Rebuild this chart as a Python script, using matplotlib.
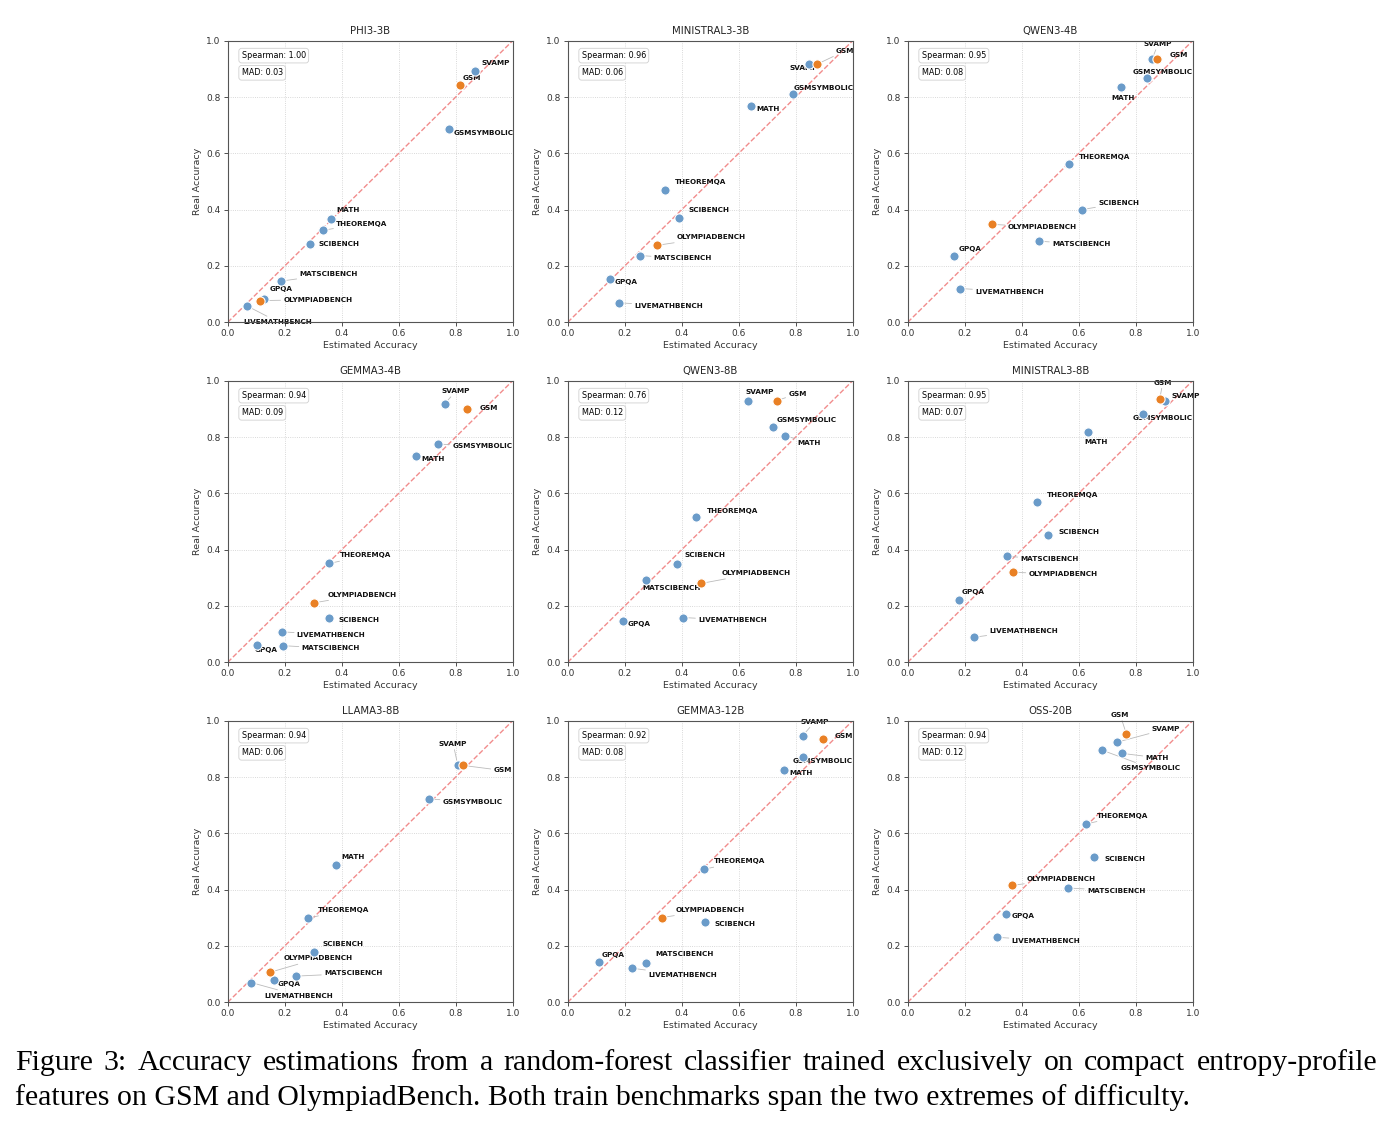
import numpy as np
import matplotlib
matplotlib.use("Agg")
import matplotlib.pyplot as plt

# benchmarks, same order in every panel
benchmarks = ["SVAMP", "GSM", "GSMSYMBOLIC", "MATH", "THEOREMQA", "SCIBENCH",
              "OLYMPIADBENCH", "MATSCIBENCH", "GPQA", "LIVEMATHBENCH"]
train_benchmarks = ["GSM", "OLYMPIADBENCH"]

models = ["PHI3-3B", "MINISTRAL3-3B", "QWEN3-4B",
          "GEMMA3-4B", "QWEN3-8B", "MINISTRAL3-8B",
          "LLAMA3-8B", "GEMMA3-12B", "OSS-20B"]

spearman = ["1.00", "0.96", "0.95", "0.94", "0.76", "0.95", "0.94", "0.92", "0.94"]
mad = ["0.03", "0.06", "0.08", "0.09", "0.12", "0.07", "0.06", "0.08", "0.12"]

# estimated accuracy per model (order of benchmarks)
est_phi3_3b = [0.868, 0.815, 0.778, 0.364, 0.336, 0.288, 0.113, 0.186, 0.129, 0.068]
est_ministral3_3b = [0.847, 0.876, 0.792, 0.643, 0.342, 0.391, 0.312, 0.254, 0.147, 0.181]
est_qwen3_4b = [0.858, 0.876, 0.841, 0.750, 0.567, 0.611, 0.296, 0.460, 0.164, 0.184]
est_gemma3_4b = [0.761, 0.841, 0.739, 0.660, 0.357, 0.354, 0.302, 0.195, 0.104, 0.191]
est_qwen3_8b = [0.634, 0.733, 0.722, 0.761, 0.449, 0.385, 0.468, 0.276, 0.193, 0.406]
est_ministral3_8b = [0.903, 0.884, 0.827, 0.634, 0.455, 0.494, 0.370, 0.350, 0.179, 0.233]
est_llama3_8b = [0.807, 0.827, 0.706, 0.381, 0.280, 0.302, 0.150, 0.241, 0.164, 0.083]
est_gemma3_12b = [0.825, 0.897, 0.825, 0.759, 0.477, 0.483, 0.332, 0.276, 0.109, 0.226]
est_oss_20b = [0.736, 0.767, 0.683, 0.751, 0.625, 0.655, 0.366, 0.561, 0.345, 0.312]

# real accuracy per model
real_phi3_3b = [0.892, 0.841, 0.688, 0.368, 0.327, 0.279, 0.077, 0.146, 0.084, 0.058]
real_ministral3_3b = [0.917, 0.917, 0.809, 0.768, 0.471, 0.370, 0.273, 0.237, 0.154, 0.069]
real_qwen3_4b = [0.936, 0.936, 0.867, 0.836, 0.561, 0.400, 0.348, 0.288, 0.234, 0.120]
real_gemma3_4b = [0.917, 0.901, 0.775, 0.733, 0.351, 0.159, 0.211, 0.059, 0.062, 0.108]
real_qwen3_8b = [0.929, 0.929, 0.836, 0.805, 0.517, 0.350, 0.280, 0.291, 0.148, 0.159]
real_ministral3_8b = [0.927, 0.934, 0.883, 0.817, 0.569, 0.451, 0.320, 0.376, 0.222, 0.089]
real_llama3_8b = [0.844, 0.841, 0.722, 0.486, 0.298, 0.179, 0.107, 0.093, 0.078, 0.070]
real_gemma3_12b = [0.947, 0.935, 0.871, 0.825, 0.472, 0.284, 0.301, 0.141, 0.143, 0.121]
real_oss_20b = [0.924, 0.954, 0.895, 0.884, 0.633, 0.515, 0.415, 0.406, 0.315, 0.231]

estimated = [est_phi3_3b, est_ministral3_3b, est_qwen3_4b, est_gemma3_4b, est_qwen3_8b,
             est_ministral3_8b, est_llama3_8b, est_gemma3_12b, est_oss_20b]
real = [real_phi3_3b, real_ministral3_3b, real_qwen3_4b, real_gemma3_4b, real_qwen3_8b,
        real_ministral3_8b, real_llama3_8b, real_gemma3_12b, real_oss_20b]

# label placement (pixel offsets from each point), layout only
label_offsets = [
    [(6.7, 8.3), (2.7, 7.3), (4.3, -4), (5.3, 8.3), (12.7, 6.3), (9, -0.7), (23.3, 1), (18.7, 6.7), (5, 10), (-3.3, -16)],
    [(-20, -3.7), (18.7, 13.3), (0.3, 6.7), (5.3, -3.3), (9.7, 7.3), (9, 7.7), (20.3, 8.3), (13.7, -2.7), (5.3, -3.3), (15, -2.7)],
    [(-8.3, 14.7), (12, 3.7), (-14.3, 6.3), (-10.3, -11.3), (10, 7.3), (16.3, 6.3), (15.7, -3), (13.3, -2.7), (3.7, 7.3), (15, -3)],
    [(-3, 13), (12, 0.7), (14, -2.3), (5.3, -3), (10.3, 8), (9.7, -2), (13.7, 8.3), (18.3, -2.7), (-2.7, -5), (14.7, -2.7)],
    [(-2.7, 9), (11.7, 7), (3.3, 7.3), (12.7, -7), (11.3, 5.7), (7.3, 8.3), (20.7, 10.3), (-4, -7.3), (5.3, -3.7), (14.7, -2.7)],
    [(6, 5.7), (-6, 16.7), (-10.3, -4), (-4.3, -9.7), (9.7, 7.3), (9.7, 3.3), (15.3, -2.3), (13, -2.7), (3, 7.3), (15.3, 6.7)],
    [(-18.7, 20.7), (30, -5), (13.7, -2.7), (5, 8), (10.3, 8.3), (8.7, 8.3), (12.7, 13.7), (27.7, 2.7), (2.7, -3.7), (12.7, -13)],
    [(-2.3, 14), (11.7, 2.7), (-9.7, -4), (5, -3.3), (10.3, 8), (9, -2), (13.3, 7.7), (9, 8.3), (3.3, 7.3), (16, -6.7)],
    [(34.3, 13), (-15.3, 18.7), (18.7, -18), (23.7, -4.3), (10.7, 8.3), (9.7, -1.7), (15, 6.7), (19.3, -2.7), (5.7, -2.3), (15, -3.3)],
]

blue = "#6a9bc9"
orange = "#e98024"

W, H = 1392, 1131
fig = plt.figure(figsize=(W / 100, H / 100), dpi=100)

col_left = [227.7, 567.7, 907.7]
row_top = [40.7, 380.7, 720.7]
ax_w, ax_h = 285, 281.6

for i, model in enumerate(models):
    r, c = divmod(i, 3)
    ax = fig.add_axes([col_left[c] / W, 1 - (row_top[r] + ax_h) / H, ax_w / W, ax_h / H])
    x = np.array(estimated[i])
    y = np.array(real[i])
    is_train = np.array([b in train_benchmarks for b in benchmarks])

    ax.plot([0, 1], [0, 1], "--", color="#f08080", lw=1.0, alpha=0.9, zorder=1)
    ax.scatter(x[~is_train], y[~is_train], s=44, color=blue, edgecolor="white", linewidth=0.8, zorder=3)
    ax.scatter(x[is_train], y[is_train], s=44, color=orange, edgecolor="white", linewidth=0.8, zorder=3)

    for j, name in enumerate(benchmarks):
        dx, dy = label_offsets[i][j]
        far = np.hypot(dx, dy) > 13
        ax.annotate(name, (x[j], y[j]), xytext=(dx, dy), textcoords="offset pixels",
                    ha="left", va="center", fontsize=5.2, fontweight="bold", color="#111111",
                    zorder=2,
                    arrowprops=dict(arrowstyle="-", color="#bbbbbb", lw=0.6,
                                    shrinkA=0, shrinkB=3) if far else None)

    ax.text(0.049, 0.947, f"Spearman: {spearman[i]}", transform=ax.transAxes,
            fontsize=5.8, va="center", ha="left",
            bbox=dict(boxstyle="round,pad=0.35", fc="white", ec="#d0d0d0", lw=0.6))
    ax.text(0.049, 0.886, f"MAD: {mad[i]}", transform=ax.transAxes,
            fontsize=5.8, va="center", ha="left",
            bbox=dict(boxstyle="round,pad=0.35", fc="white", ec="#d0d0d0", lw=0.6))

    ax.set_xlim(0, 1)
    ax.set_ylim(0, 1)
    ax.set_xticks(np.arange(0, 1.01, 0.2))
    ax.set_yticks(np.arange(0, 1.01, 0.2))
    ax.grid(True, linestyle=":", color="#cccccc", lw=0.6)
    ax.set_axisbelow(True)
    ax.tick_params(labelsize=6.5, length=3, width=0.6, pad=2, colors="#333333")
    for s in ax.spines.values():
        s.set_color("#555555")
        s.set_linewidth(0.8)
    ax.set_xlabel("Estimated Accuracy", fontsize=6.8, color="#333333", labelpad=2)
    ax.set_ylabel("Real Accuracy", fontsize=6.8, color="#333333", labelpad=3)
    ax.set_title(model, fontsize=7.3, color="#222222", pad=5)

# caption, first line justified to full width like the paper
caption1 = ["Figure", "3:", "Accuracy", "estimations", "from", "a", "random-forest", "classifier",
            "trained", "exclusively", "on", "compact", "entropy-profile"]
caption2 = "features on GSM and OlympiadBench. Both train benchmarks span the two extremes of difficulty."
cap_size = 21.5
left_px, right_px = 15, 1377

renderer = fig.canvas.get_renderer()
word_texts = [fig.text(0, 1 - 1063 / H, w, fontsize=cap_size, family="Liberation Serif",
                       va="center", ha="left") for w in caption1]
widths = [t.get_window_extent(renderer).width for t in word_texts]
gap = (right_px - left_px - sum(widths)) / (len(widths) - 1)
xpos = left_px
for t, w in zip(word_texts, widths):
    t.set_x(xpos / W)
    xpos += w + gap
fig.text(left_px / W, 1 - 1098 / H, caption2, fontsize=cap_size, family="Liberation Serif",
         va="center", ha="left")

fig.savefig("out.png", dpi=100)
